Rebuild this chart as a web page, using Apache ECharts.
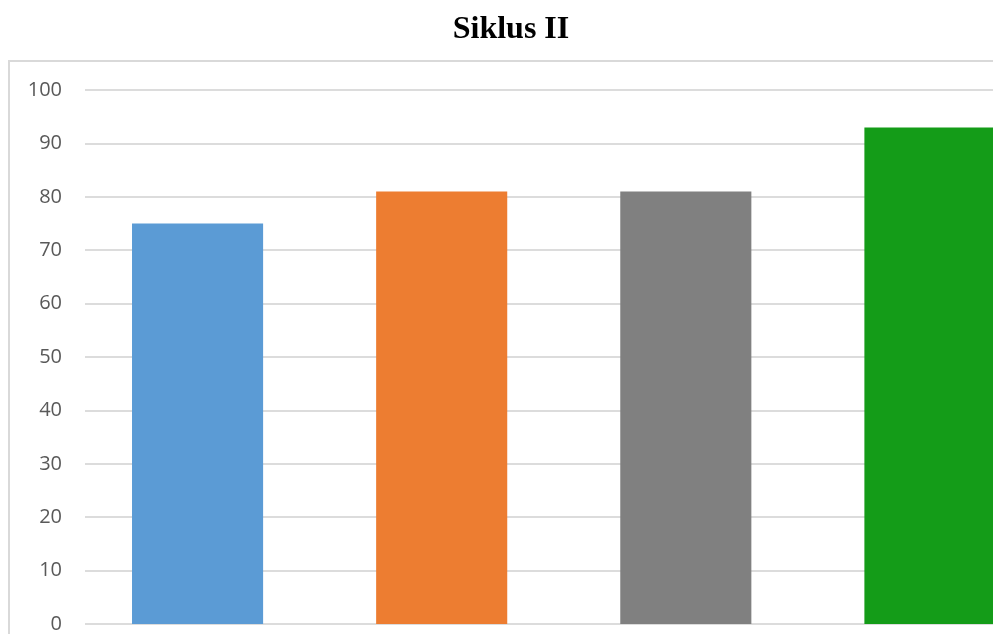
<!DOCTYPE html>
<html>
<head>
<meta charset="utf-8">
<script src="https://cdn.jsdelivr.net/npm/echarts@6/dist/echarts.min.js"></script>
<style>
html,body{margin:0;padding:0;background:#fff;overflow:hidden;width:993px;height:634px;}
#chart{width:1052px;height:634px;}
</style>
</head>
<body>
<div id="chart"></div>
<script>
const titleText = "Siklus II";
const categories = ["1", "2", "3", "4"];
const values = [75, 81, 81, 93];
const barColors = ["#5B9BD5", "#ED7D31", "#808080", "#149C18"];
const yMin = 0, yMax = 100, yInterval = 10;

const chart = echarts.init(document.getElementById('chart'));
chart.setOption({
  animation: false,
  backgroundColor: '#ffffff',
  title: {
    text: titleText,
    left: 506, top: 9, textAlign: 'center',
    textStyle: { fontFamily: 'Liberation Serif', fontWeight: 'bold', fontSize: 32, color: '#000' }
  },
  graphic: [{
    type: 'rect', silent: true, z: -1,
    shape: { x: 9, y: 61, width: 1100, height: 700 },
    style: { fill: 'none', stroke: '#d9d9d9', lineWidth: 2 }
  }],
  grid: [
    { left: 85, right: 0, top: 90, height: 534, containLabel: false },
    { left: 75.5, right: 0, top: 90, height: 534, containLabel: false }
  ],
  xAxis: [
    { gridIndex: 0, type: 'category', data: categories, show: false },
    { gridIndex: 1, type: 'category', data: categories, show: false }
  ],
  yAxis: [
    {
      gridIndex: 0, type: 'value', min: yMin, max: yMax, interval: yInterval,
      axisLine: { show: false }, axisTick: { show: false },
      axisLabel: { margin: 23, fontFamily: 'Open Sans', fontSize: 20, color: '#595959' },
      splitLine: { lineStyle: { color: '#dcdcdc', width: 2 } }
    },
    {
      gridIndex: 1, type: 'value', min: yMin, max: yMax, interval: yInterval, show: false,
      splitLine: { show: false }
    }
  ],
  series: [{
    type: 'bar', xAxisIndex: 1, yAxisIndex: 1,
    barWidth: '53.7%',
    data: values.map((v, i) => ({ value: v, itemStyle: { color: barColors[i] } }))
  }]
});
</script>
</body>
</html>
